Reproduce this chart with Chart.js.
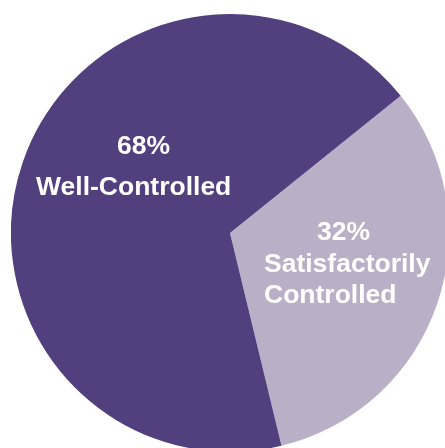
<!DOCTYPE html>
<html lang="en">
<head>
    <meta charset="UTF-8">
    <title>Control Pie</title>
</head>
<style>
    body {
        background-color: #ffffff;
        margin: 0;
        padding: 0;
        width: 445px;
        height: 448px;
        overflow: hidden;
        position: relative;
    }
    .chart {
        position: absolute;
        left: 11px;
        top: 14px;
        width: 438px;
        height: 438px;
    }
</style>
<script src="https://cdn.jsdelivr.net/npm/chart.js"></script>
<body>
    <div class="chart"><canvas id="chart"></canvas></div>

    <script>
        const categories = ['Satisfactorily Controlled', 'Well-Controlled'];
        const values = [32, 68];
        const colors = ['#b9afc6', '#523f7d'];

        // label lines for each slice: [text, x, baseline y] in page pixels
        const labelLines = [
            [['32%', 317, 240], ['Satisfactorily', 264, 272], ['Controlled', 264, 303]],
            [['68%', 117, 154], ['Well-Controlled', 36, 195]]
        ];

        const textPlugin = {
            id: 'sliceText',
            afterDatasetsDraw(chart) {
                const c = chart.ctx;
                const box = chart.canvas.getBoundingClientRect();
                c.save();
                c.fillStyle = '#ffffff';
                c.font = 'bold 26.5px "Liberation Sans", Arial, sans-serif';
                c.textAlign = 'left';
                c.textBaseline = 'alphabetic';
                labelLines.forEach(lines => {
                    lines.forEach(([t, x, y]) => c.fillText(t, x - box.left, y - box.top));
                });
                c.restore();
            }
        };

        new Chart(document.getElementById('chart'), {
            type: 'pie',
            data: {
                labels: categories,
                datasets: [{
                    data: values,
                    backgroundColor: colors,
                    borderWidth: 0
                }]
            },
            options: {
                animation: false,
                responsive: true,
                maintainAspectRatio: false,
                rotation: 51.2,
                layout: { padding: 0 },
                plugins: {
                    legend: { display: false },
                    tooltip: { enabled: false }
                }
            },
            plugins: [textPlugin]
        });
    </script>
</body>
</html>
